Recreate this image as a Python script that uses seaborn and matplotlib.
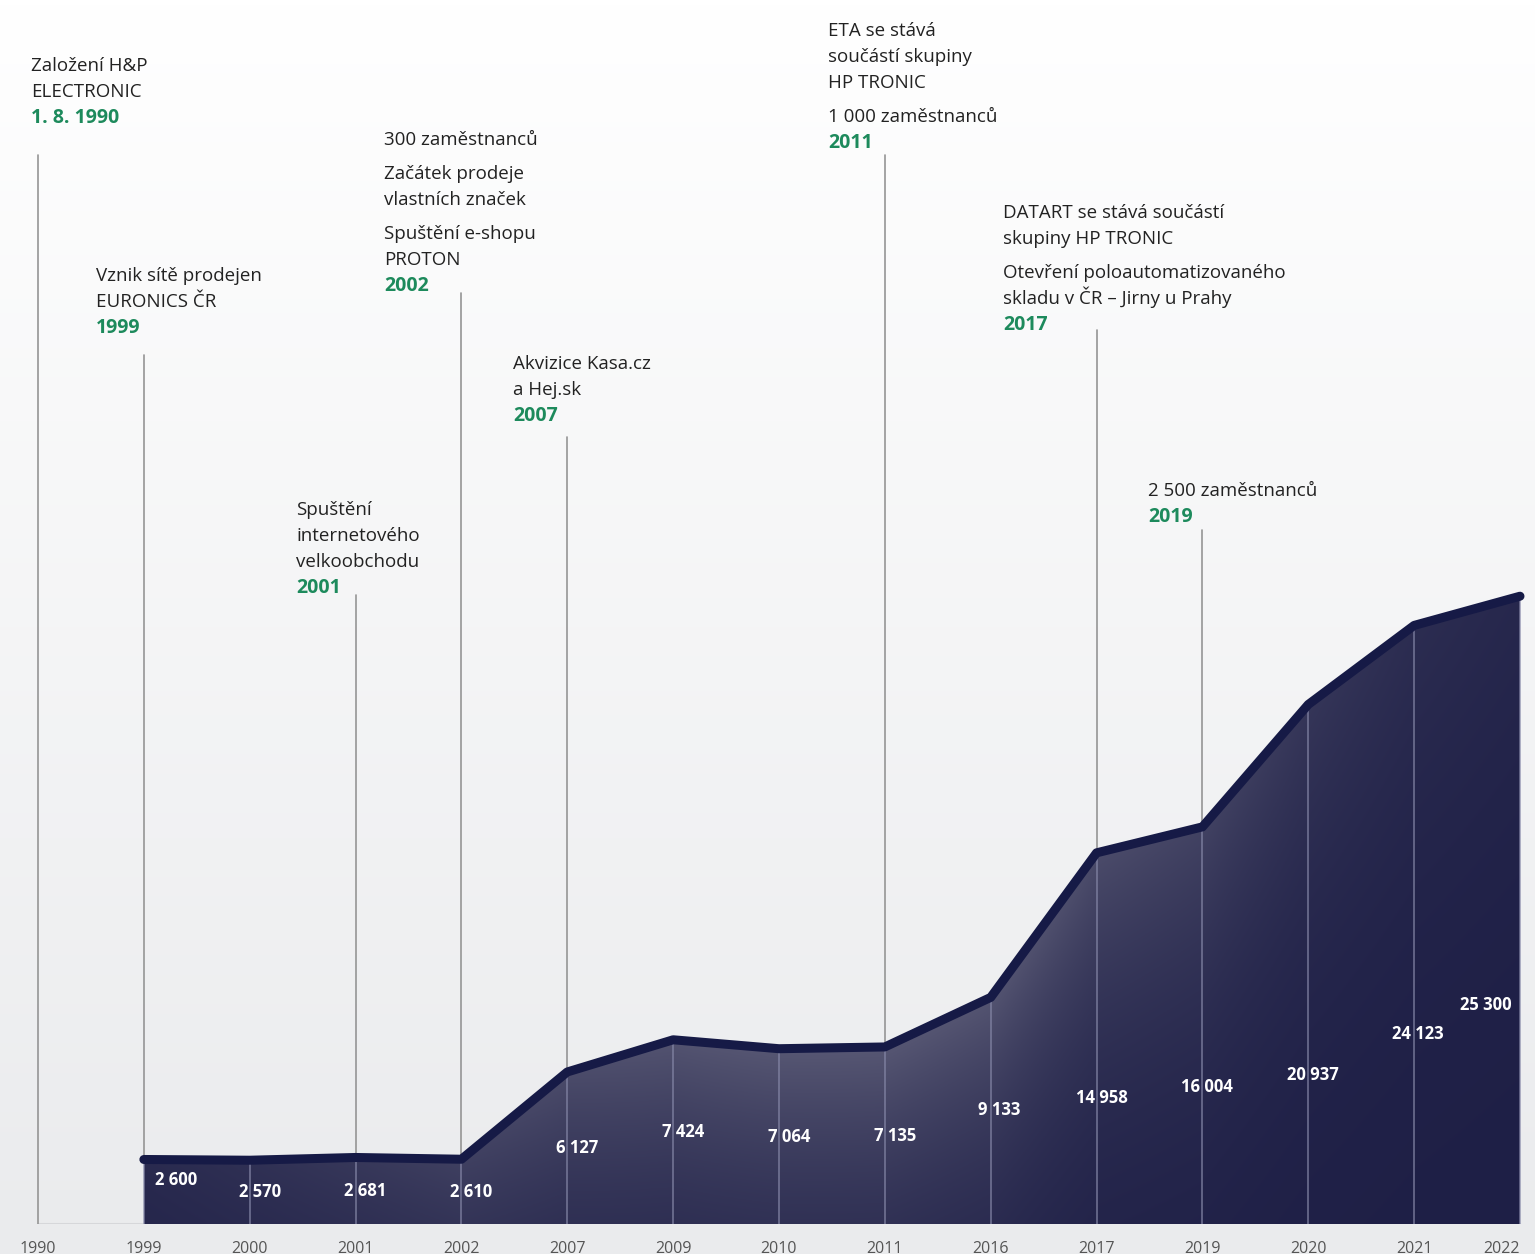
import numpy as np
import matplotlib
matplotlib.use("Agg")
import matplotlib.pyplot as plt
import seaborn as sns
from matplotlib.colors import to_rgb

# --- data -------------------------------------------------------------
years = ["1990", "1999", "2000", "2001", "2002", "2007", "2009", "2010",
         "2011", "2016", "2017", "2019", "2020", "2021", "2022"]
employees = [2600, 2570, 2681, 2610, 6127, 7424, 7064, 7135,
             9133, 14958, 16004, 20937, 24123, 25300]   # 1999 .. 2022

milestone_years = ["1990", "1999", "2001", "2002", "2007", "2011", "2017", "2019"]
milestone_dates = ["1. 8. 1990", "1999", "2001", "2002", "2007", "2011", "2017", "2019"]
milestone_texts = [
    [["Založení H&P", "ELECTRONIC"]],
    [["Vznik sítě prodejen", "EURONICS ČR"]],
    [["Spuštění", "internetového", "velkoobchodu"]],
    [["300 zaměstnanců"], ["Začátek prodeje", "vlastních značek"],
     ["Spuštění e-shopu", "PROTON"]],
    [["Akvizice Kasa.cz", "a Hej.sk"]],
    [["ETA se stává", "součástí skupiny", "HP TRONIC"], ["1 000 zaměstnanců"]],
    [["DATART se stává součástí", "skupiny HP TRONIC"],
     ["Otevření poloautomatizovaného", "skladu v ČR – Jirny u Prahy"]],
    [["2 500 zaměstnanců"]],
]

# --- layout (pixels) -----------------------------------------------------
W, H = 1535, 1254
X0_PX, STEP_PX = 38, (1520 - 38) / 14      # x position of first tick, spacing
BASE_PX = 1224                              # baseline from top
Y_PER_PX = 40.3                             # employees per pixel

text_x_px = [31, 96, 296, 384, 513, 828, 1003, 1148]
text_y_px = [71, 281, 515, 145, 369, 36, 218, 496]   # first baseline
stem_top_px = [155, 355, 595, 293, 437, 155, 330, 530]
label_dx_px = [32, 10, 10, 10, 10, 10, 10, 10, 8, 5, 5, 5, 4, -34]
label_rise_px = [44, 32, 33, 32, 76, 92, 87, 88, 114, 126, 137, 149, 190, 219]

LINE_H, PARA_GAP = 26, 8
GREEN = "#1d8a5c"
NAVY = "#161a46"

sns.set_style("white")
plt.rcParams["font.family"] = ["Open Sans", "DejaVu Sans"]

fig = plt.figure(figsize=(W / 100, H / 100), dpi=100)

# background gradient
bg = fig.add_axes([0, 0, 1, 1], zorder=-1)
top_c, bot_c = np.array(to_rgb("#ffffff")), np.array(to_rgb("#eaebed"))
g = np.linspace(0, 1, 256)[:, None, None]
bg.imshow(top_c + (bot_c - top_c) * g, aspect="auto", extent=[0, 1, 0, 1])
bg.set_axis_off()

ax = fig.add_axes([0, (H - BASE_PX) / H, 1, BASE_PX / H])
ax.set_facecolor("none")
ax.set_xlim(-X0_PX / STEP_PX, (W - X0_PX) / STEP_PX)
ax.set_ylim(0, BASE_PX * Y_PER_PX)
for s in ax.spines.values():
    s.set_visible(False)

pos = np.arange(1, len(years))


def py_to_data(py):
    return (BASE_PX - py) * Y_PER_PX


# area with gradient
poly = ax.fill_between(pos, employees, 0, facecolor="none", edgecolor="none")
nx, ny = 700, 360
ymax = max(employees) * 1.03
X = np.linspace(pos[0], pos[-1], nx)
Y = np.linspace(0, ymax, ny)
XX, YY = np.meshgrid(X, Y)
curve = np.interp(XX, pos, employees)
d = np.clip((curve - YY) / Y_PER_PX, 0, None)
xp = X0_PX + XX * STEP_PX
yp = BASE_PX - YY / Y_PER_PX
t = np.exp(-d / 190) * np.exp(-((xp - 830) ** 2 + (yp - 960) ** 2) / (2 * 400 ** 2))
dark, light = np.array(to_rgb("#1e1f46")), np.array(to_rgb("#595975"))
img = dark + (light - dark) * t[..., None]
im = ax.imshow(img, origin="lower", aspect="auto",
               extent=[pos[0], pos[-1], 0, ymax], zorder=1)
im.set_clip_path(poly.get_paths()[0], transform=ax.transData)

# baseline
ax.plot([0, pos[-1]], [0, 0], color="#d6d7da", lw=1.5, zorder=0.5)

# vertical stems
for i, yr in enumerate(years):
    val = employees[i - 1] if i > 0 else 0
    if yr in milestone_years:
        k = milestone_years.index(yr)
        top = py_to_data(stem_top_px[k])
        ax.plot([i, i], [val, top], color="#959595", lw=1.2, zorder=2)
    if i > 0:
        ax.plot([i, i], [0, val], color="#8688a8", lw=1.2, alpha=0.75, zorder=2)

# line
sns.lineplot(x=pos, y=employees, color=NAVY, linewidth=6.5, ax=ax, zorder=5)
ln = ax.lines[-1]
ln.set_solid_capstyle("round")
ln.set_solid_joinstyle("round")

# value labels
for i, v in enumerate(employees):
    lbl = f"{v:,}".replace(",", " ")
    ax.text(pos[i] + label_dx_px[i] / STEP_PX, label_rise_px[i] * Y_PER_PX, lbl,
            color="white", fontsize=12, fontweight="bold",
            ha="center", va="center", zorder=6)

# milestone annotations
for k in range(len(milestone_years)):
    x = text_x_px[k] / W
    y = text_y_px[k]
    for p, para in enumerate(milestone_texts[k]):
        if p > 0:
            y += PARA_GAP
        for line in para:
            fig.text(x, 1 - y / H, line, fontsize=13.5, color="#222222",
                     ha="left", va="baseline")
            y += LINE_H
    fig.text(x, 1 - y / H, milestone_dates[k], fontsize=14, color=GREEN,
             fontweight="bold", ha="left", va="baseline")

ax.set_xticks(range(len(years)))
ax.set_xticklabels(years)
ax.set_yticks([])
ax.tick_params(axis="x", length=0, pad=12, labelsize=11.5, labelcolor="#555555")
# keep the last year label inside the picture
last = ax.get_xticklabels()[-1]
last.set_horizontalalignment("right")
last.set_x(len(years) - 1 + 13 / STEP_PX)

fig.savefig("out.png", dpi=100)
